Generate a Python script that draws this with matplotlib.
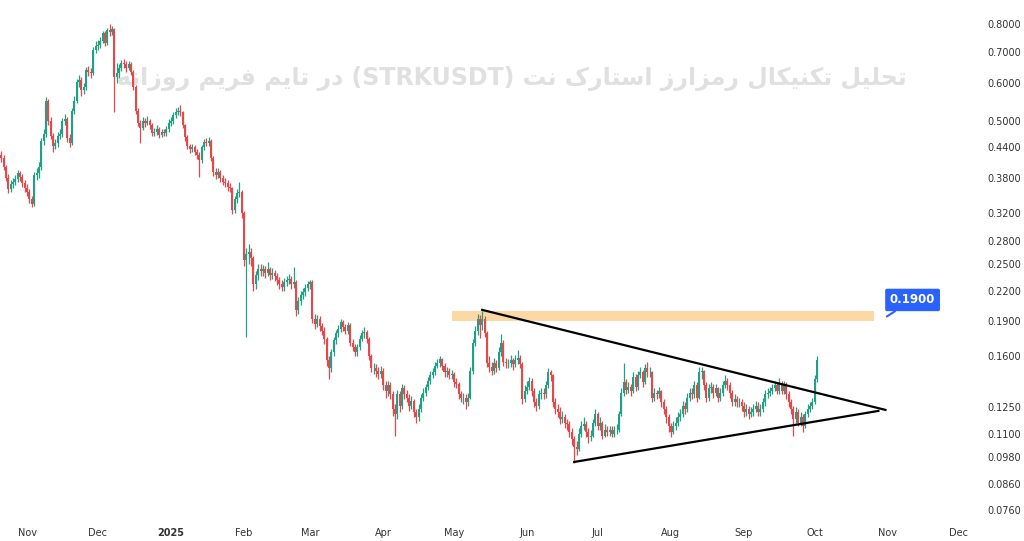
import numpy as np
import pandas as pd
import matplotlib
matplotlib.use('Agg')
import matplotlib.pyplot as plt
import matplotlib.dates as mdates
from matplotlib.patches import Rectangle
from matplotlib.ticker import FixedLocator, NullLocator


######################################################
# data section  (daily STRKUSDT candles)
######################################################
start_day = '2024-10-20'
first_open = 0.430

closes = [
    .425, .418, .400, .380, .360, .368, .372, .378, .388, .382,
    .370, .362, .355, .342, .335, .385, .388, .400, .454, .470,
    .550, .500, .466, .442, .449, .466, .470, .500, .505, .460,
    .450, .526, .552, .603, .610, .580, .590, .640, .635, .630,
    .706, .720, .723, .735, .765, .730, .777, .770, .780, .619,
    .630, .647, .663, .660, .648, .660, .634, .589, .526, .496,
    .484, .500, .496, .500, .490, .472, .475, .482, .468, .475,
    .472, .480, .496, .500, .515, .522, .526, .522, .490, .463,
    .442, .436, .440, .430, .424, .414, .440, .452, .450, .455,
    .418, .390, .385, .390, .379, .372, .370, .363, .361, .325,
    .342, .353, .355, .320, .255, .262, .265, .257, .227, .237,
    .244, .242, .244, .240, .244, .237, .240, .236, .231, .227,
    .224, .229, .231, .233, .227, .229, .200, .209, .215, .218,
    .223, .227, .229, .192, .187, .192, .185, .181, .174, .157,
    .151, .163, .173, .179, .183, .189, .184, .181, .186, .171,
    .167, .163, .167, .174, .179, .180, .174, .160, .151, .151,
    .149, .147, .149, .139, .135, .139, .133, .124, .121, .133,
    .126, .137, .133, .131, .126, .129, .122, .119, .124, .131,
    .134, .138, .142, .146, .148, .153, .155, .158, .153, .148,
    .149, .146, .147, .141, .140, .133, .131, .131, .128, .131,
    .149, .171, .181, .192, .186, .192, .179, .155, .152, .149,
    .155, .151, .163, .171, .156, .155, .155, .157, .154, .157,
    .159, .154, .130, .135, .138, .142, .135, .128, .126, .133,
    .134, .133, .139, .148, .146, .128, .124, .122, .118, .119,
    .116, .115, .111, .107, .103, .102, .110, .114, .115, .111,
    .108, .109, .116, .121, .114, .116, .109, .112, .111, .112,
    .110, .112, .112, .121, .134, .141, .136, .138, .135, .145,
    .138, .146, .148, .141, .151, .148, .148, .131, .134, .133,
    .135, .128, .124, .119, .114, .111, .114, .116, .119, .121,
    .126, .124, .131, .134, .133, .139, .131, .148, .149, .139,
    .131, .137, .138, .134, .137, .131, .134, .139, .142, .139,
    .134, .128, .130, .128, .128, .126, .122, .124, .121, .122,
    .124, .126, .122, .124, .128, .133, .134, .135, .137, .139,
    .135, .140, .135, .139, .133, .128, .124, .118, .122, .116,
    .119, .114, .121, .124, .126, .128, .143, .157,
]

highs = [
    .438, .432, .424, .405, .386, .375, .380, .385, .395, .393,
    .386, .375, .368, .360, .347, .390, .398, .410, .460, .482,
    .562, .556, .510, .472, .458, .474, .482, .508, .518, .510,
    .470, .532, .565, .612, .625, .618, .602, .650, .652, .648,
    .715, .735, .740, .750, .775, .772, .785, .800, .792, .785,
    .662, .660, .672, .675, .668, .670, .665, .640, .595, .532,
    .502, .510, .508, .512, .506, .495, .484, .490, .486, .482,
    .480, .488, .504, .510, .522, .532, .535, .540, .526, .494,
    .468, .448, .448, .445, .436, .430, .446, .458, .460, .462,
    .458, .422, .398, .398, .394, .385, .380, .376, .370, .364,
    .348, .360, .372, .358, .324, .270, .275, .270, .260, .242,
    .250, .250, .249, .248, .252, .247, .245, .243, .239, .235,
    .231, .234, .236, .238, .236, .246, .231, .213, .219, .223,
    .227, .230, .232, .231, .196, .195, .194, .188, .184, .176,
    .160, .166, .176, .182, .186, .192, .191, .187, .189, .188,
    .174, .170, .170, .177, .182, .184, .182, .176, .162, .155,
    .154, .152, .153, .151, .142, .142, .141, .135, .127, .136,
    .135, .140, .139, .136, .133, .132, .130, .124, .127, .133,
    .137, .140, .145, .149, .151, .156, .158, .160, .159, .155,
    .152, .151, .150, .148, .144, .141, .135, .134, .133, .134,
    .152, .174, .185, .196, .195, .199, .194, .181, .160, .156,
    .159, .157, .167, .178, .173, .159, .158, .161, .159, .161,
    .165, .161, .156, .139, .142, .145, .144, .137, .131, .136,
    .137, .137, .142, .151, .150, .147, .131, .127, .125, .123,
    .121, .118, .117, .113, .109, .106, .113, .117, .119, .117,
    .113, .112, .118, .124, .122, .119, .117, .115, .114, .114,
    .114, .114, .115, .123, .137, .155, .143, .141, .140, .148,
    .147, .149, .152, .150, .154, .156, .152, .149, .137, .136,
    .138, .136, .130, .126, .121, .116, .117, .119, .122, .124,
    .129, .128, .134, .137, .137, .142, .141, .152, .152, .150,
    .141, .140, .141, .140, .140, .138, .137, .142, .146, .144,
    .141, .136, .133, .132, .131, .130, .128, .127, .126, .125,
    .127, .129, .128, .127, .131, .136, .137, .138, .140, .142,
    .141, .144, .142, .142, .141, .135, .130, .126, .125, .124,
    .122, .121, .123, .127, .128, .131, .146, .160,
]

lows = [
    .418, .410, .395, .374, .352, .355, .362, .366, .372, .374,
    .364, .355, .348, .336, .330, .332, .376, .380, .395, .445,
    .462, .490, .458, .430, .436, .440, .458, .462, .490, .452,
    .440, .446, .518, .545, .590, .565, .570, .582, .622, .615,
    .625, .695, .705, .712, .728, .718, .722, .755, .760, .523,
    .600, .615, .638, .648, .635, .640, .625, .580, .518, .488,
    .450, .478, .486, .490, .482, .465, .466, .468, .460, .462,
    .464, .466, .475, .488, .494, .508, .514, .512, .484, .455,
    .436, .428, .430, .424, .416, .381, .408, .434, .442, .444,
    .412, .384, .378, .380, .372, .366, .364, .356, .354, .318,
    .320, .336, .346, .312, .248, .176, .250, .248, .220, .222,
    .232, .236, .236, .234, .236, .232, .233, .230, .226, .222,
    .219, .220, .225, .227, .222, .223, .194, .196, .205, .211,
    .214, .219, .222, .188, .183, .184, .181, .177, .170, .153,
    .143, .148, .160, .170, .176, .180, .181, .178, .178, .168,
    .164, .160, .160, .165, .172, .175, .171, .157, .148, .147,
    .145, .143, .144, .136, .131, .132, .130, .120, .109, .118,
    .122, .124, .130, .128, .123, .124, .119, .116, .117, .122,
    .129, .132, .136, .140, .144, .146, .151, .152, .150, .145,
    .145, .143, .143, .138, .137, .130, .128, .127, .124, .126,
    .130, .147, .168, .177, .175, .182, .176, .152, .148, .146,
    .147, .148, .150, .160, .153, .151, .151, .152, .150, .152,
    .154, .151, .127, .128, .133, .136, .132, .125, .123, .124,
    .130, .130, .131, .137, .142, .125, .121, .119, .115, .116,
    .113, .112, .108, .104, .0956, .099, .101, .108, .112, .108,
    .105, .106, .108, .114, .112, .112, .107, .108, .109, .109,
    .108, .108, .110, .111, .120, .132, .133, .134, .132, .134,
    .135, .136, .144, .138, .140, .145, .145, .128, .129, .130,
    .131, .125, .121, .116, .111, .108, .110, .112, .114, .117,
    .119, .121, .122, .129, .130, .131, .128, .130, .143, .136,
    .128, .129, .134, .131, .132, .128, .129, .132, .137, .136,
    .131, .126, .126, .125, .125, .123, .119, .120, .118, .119,
    .120, .122, .120, .120, .122, .126, .131, .132, .133, .135,
    .133, .133, .133, .133, .130, .125, .121, .109, .116, .114,
    .114, .111, .113, .119, .122, .124, .127, .141,
]

# resistance zone and triangle
zone_dates = ['2025-04-30', '2025-10-26']
zone_prices = [0.190, 0.1995]
upper_dates = ['2025-05-13', '2025-10-31']
upper_prices = [0.2003, 0.1234]
lower_dates = ['2025-06-21', '2025-10-28']
lower_prices = [0.0959, 0.1228]

label_value = 0.19
label_anchor = ('2025-10-31 14:00', 0.194)
label_box = ('2025-11-11 12:00', 0.2102)

price_ticks = [0.8, 0.7, 0.6, 0.5, 0.44, 0.38, 0.32, 0.28, 0.25, 0.22,
               0.19, 0.16, 0.125, 0.11, 0.098, 0.086, 0.076]
month_starts = ['2024-11-01', '2024-12-01', '2025-01-01', '2025-02-01',
                '2025-03-01', '2025-04-01', '2025-05-01', '2025-06-01',
                '2025-07-01', '2025-08-01', '2025-09-01', '2025-10-01',
                '2025-11-01', '2025-12-01']
month_labels = ['Nov', 'Dec', '2025', 'Feb', 'Mar', 'Apr', 'May', 'Jun',
                'Jul', 'Aug', 'Sep', 'Oct', 'Nov', 'Dec']

title = 'تحلیل تکنیکال رمزارز استارک نت (STRKUSDT) در تایم فریم روزانه'


# simple Persian shaping so matplotlib (LTR, no shaping) draws joined letters
FORMS = {
    'ا': ('\uFE8D', '\uFE8E', None, None),
    'ت': ('\uFE95', '\uFE96', '\uFE97', '\uFE98'),
    'ح': ('\uFEA1', '\uFEA2', '\uFEA3', '\uFEA4'),
    'د': ('\uFEA9', '\uFEAA', None, None),
    'ر': ('\uFEAD', '\uFEAE', None, None),
    'ز': ('\uFEAF', '\uFEB0', None, None),
    'س': ('\uFEB1', '\uFEB2', '\uFEB3', '\uFEB4'),
    'ف': ('\uFED1', '\uFED2', '\uFED3', '\uFED4'),
    'ل': ('\uFEDD', '\uFEDE', '\uFEDF', '\uFEE0'),
    'م': ('\uFEE1', '\uFEE2', '\uFEE3', '\uFEE4'),
    'ن': ('\uFEE5', '\uFEE6', '\uFEE7', '\uFEE8'),
    'ه': ('\uFEE9', '\uFEEA', '\uFEEB', '\uFEEC'),
    'و': ('\uFEED', '\uFEEE', None, None),
    'ک': ('\uFB8E', '\uFB8F', '\uFB90', '\uFB91'),
    'ی': ('\uFBFC', '\uFBFD', '\uFBFE', '\uFBFF'),
}


def shape_word(word):
    if not any(ch in FORMS for ch in word):
        return word
    out = []
    for j, ch in enumerate(word):
        f = FORMS[ch]
        prev_ok = j > 0 and word[j - 1] in FORMS and FORMS[word[j - 1]][2] is not None
        next_ok = j < len(word) - 1 and word[j + 1] in FORMS and f[2] is not None
        if prev_ok and next_ok:
            out.append(f[3])
        elif prev_ok:
            out.append(f[1])
        elif next_ok:
            out.append(f[2])
        else:
            out.append(f[0])
    return ''.join(out[::-1])


def visual_rtl(text):
    words = [shape_word(w) for w in text.split(' ')]
    return ' '.join(words[::-1])


def plot_chart():
    fig = plt.figure(figsize=(10.24, 5.41), dpi=100)
    ax = fig.add_axes([0.0, 0.0425, 0.955, 0.9575])

    dates = pd.date_range(start_day, periods=len(closes), freq='D')
    x = mdates.date2num(dates)
    c = np.array(closes)
    o = np.array([first_open] + closes[:-1])
    h = np.array(highs)
    l = np.array(lows)
    up = c >= o
    cols = np.where(up, '#22a085', '#e5474b')

    ax.vlines(x, l, h, colors=cols, linewidth=0.9, zorder=3)
    ax.bar(x, np.abs(c - o), bottom=np.minimum(o, c), width=0.85,
           color=cols, linewidth=0, zorder=4)

    # zone
    zd = mdates.date2num(pd.to_datetime(zone_dates))
    ax.add_patch(Rectangle((zd[0], zone_prices[0]), zd[1] - zd[0],
                           zone_prices[1] - zone_prices[0],
                           facecolor='#fcd8a4', edgecolor='none', zorder=2))

    # triangle lines
    ax.plot(pd.to_datetime(upper_dates), upper_prices, color='black', lw=1.6, zorder=5)
    ax.plot(pd.to_datetime(lower_dates), lower_prices, color='black', lw=1.6, zorder=5)

    # price label
    ax.annotate('%.4f' % label_value,
                xy=(mdates.date2num(pd.Timestamp(label_anchor[0])), label_anchor[1]),
                xytext=(mdates.date2num(pd.Timestamp(label_box[0])), label_box[1]),
                ha='center', va='center', color='white', fontsize=8.5,
                fontweight='bold', zorder=6,
                bbox=dict(boxstyle='round,pad=0.4,rounding_size=0.15',
                          fc='#2962ff', ec='none'),
                arrowprops=dict(arrowstyle='-', color='#2962ff', lw=1.5,
                                shrinkA=0, shrinkB=0))

    # watermark title (behind the candles)
    ax.text(512 / 978.0, 1 - 78 / 518.0, visual_rtl(title), transform=ax.transAxes,
            ha='center', va='center', fontsize=17, fontweight='bold',
            color='#e0e0e0', family='DejaVu Sans', zorder=1)

    ax.set_yscale('log')
    ax.set_ylim(0.0731, 0.8986)
    ax.set_xlim(mdates.date2num(pd.Timestamp('2024-10-20 12:00')),
                mdates.date2num(pd.Timestamp('2025-12-09 05:00')))

    ax.yaxis.tick_right()
    ax.yaxis.set_major_locator(FixedLocator(price_ticks))
    ax.yaxis.set_minor_locator(NullLocator())
    ax.set_yticklabels(['%.4f' % p for p in price_ticks])
    ax.tick_params(axis='y', length=0, pad=7, labelsize=7, labelcolor='#333333')

    ax.set_xticks(mdates.date2num(pd.to_datetime(month_starts)))
    ax.set_xticklabels(month_labels)
    ax.xaxis.set_minor_locator(NullLocator())
    ax.tick_params(axis='x', length=0, pad=7, labelsize=7, labelcolor='#333333')
    ax.get_xticklabels()[2].set_fontweight('bold')

    for s in ax.spines.values():
        s.set_visible(False)

    fig.savefig('out.png', dpi=100, facecolor='white')


if __name__ == '__main__':
    assert len(closes) == len(highs) == len(lows)
    plot_chart()
